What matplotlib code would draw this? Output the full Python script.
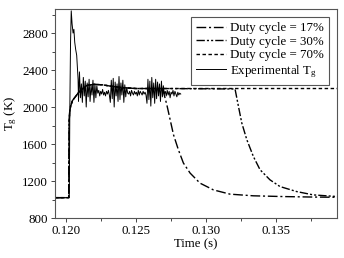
import numpy as np
import matplotlib
matplotlib.use("Agg")
import matplotlib.pyplot as plt
from matplotlib.ticker import MultipleLocator

plt.rcParams["font.family"] = ["Liberation Serif", "DejaVu Serif"]
plt.rcParams["mathtext.fontset"] = "custom"
plt.rcParams["mathtext.rm"] = "Liberation Serif"
plt.rcParams["mathtext.it"] = "Liberation Serif:italic"

# --- simulated curves (shared rise, then each duty cycle) ---
rise_t = [0.11920, 0.12018, 0.12021, 0.12025, 0.12032, 0.12045, 0.12065, 0.12090,
          0.12120, 0.12150, 0.12200, 0.12260, 0.12320, 0.12400, 0.12500]
rise_T = [1020, 1020, 1850, 1950, 2010, 2070, 2110, 2160,
          2200, 2235, 2245, 2240, 2225, 2210, 2200]

d17_t = [0.12690, 0.12720, 0.12744, 0.12768, 0.12803, 0.12839, 0.12887, 0.12958,
         0.13054, 0.13173, 0.13340, 0.13550, 0.13750, 0.13940]
d17_T = [2200, 2028, 1865, 1702, 1539, 1395, 1286, 1177,
         1104, 1058, 1040, 1032, 1027, 1024]

d30_t = [0.12700, 0.13209, 0.13233, 0.13257, 0.13293, 0.13340, 0.13388, 0.13459,
         0.13531, 0.13650, 0.13769, 0.13940]
d30_T = [2200, 2195, 2010, 1829, 1648, 1466, 1322, 1213,
         1140, 1086, 1050, 1032]

d70_t = [0.12700, 0.13940]
d70_T = [2200, 2200]

# --- experimental T_g ---
exp_head_t = [0.11920, 0.12022, 0.12026, 0.12031, 0.12036, 0.12042, 0.12049, 0.12055,
              0.12061, 0.12068, 0.12075, 0.12080, 0.12085]
exp_head_T = [1020, 1020, 2000, 2700, 3040, 2900, 2800, 2840,
              2700, 2620, 2560, 2430, 2300]
exp_osc_start = 0.12088
exp_osc_end = 0.12820
exp_osc_T = [
    2060, 2380, 2100, 2250, 2050, 2320, 2120, 2280, 2000, 2260,
    2110, 2300, 2060, 2240, 2130, 2290, 2050, 2250, 2100, 2230,
    2150, 2180, 2120, 2170, 2140, 2190, 2130, 2160, 2120, 2170, 2140, 2180, 2130,
    2050, 2290, 2090, 2310, 2000, 2270, 2120, 2250, 2060, 2330,
    2080, 2260, 2130, 2290, 2050, 2240, 2110, 2210, 2150,
    2140, 2170, 2120, 2180, 2150, 2130, 2170, 2140, 2160, 2120,
    2180, 2130, 2170, 2150, 2130, 2170, 2140, 2160, 2130,
    2040, 2300, 2080, 2280, 2010, 2320, 2100, 2260, 2040, 2300,
    2090, 2270, 2120, 2250, 2060, 2280, 2110, 2230, 2140,
    2170, 2120, 2180, 2130, 2170, 2100, 2160, 2140, 2180, 2120,
    2170, 2140, 2110, 2160, 2130, 2150, 2140,
]

labels = ["Duty cycle = 17%", "Duty cycle = 30%", "Duty cycle = 70%", r"Experimental T$_\mathrm{g}$"]


def main():
    exp_osc_t = np.linspace(exp_osc_start, exp_osc_end, len(exp_osc_T))
    exp_t = np.concatenate([exp_head_t, exp_osc_t])
    exp_T = np.concatenate([exp_head_T, exp_osc_T])

    fig = plt.figure(figsize=(3.44, 2.58), dpi=100)
    ax = fig.add_axes([0.160, 0.155, 0.820, 0.812])

    fs = 9.3
    styles = [(0, (7, 2, 1.5, 2)), (0, (6, 1.5, 1.5, 1.5, 1.5, 1.5)), (0, (2.5, 1.8))]
    for (t, T), ls, lab in zip([(d17_t, d17_T), (d30_t, d30_T), (d70_t, d70_T)], styles, labels[:3]):
        tt = list(rise_t) + list(t)
        TT = list(rise_T) + list(T)
        ax.plot(tt, TT, color="black", lw=1.0, linestyle=ls, label=lab)
    ax.plot(exp_t, exp_T, color="black", lw=0.7, label=labels[3])

    ax.set_xlim(0.1192, 0.1394)
    ax.set_ylim(800, 3065)
    ax.xaxis.set_major_locator(MultipleLocator(0.005))
    ax.xaxis.set_minor_locator(MultipleLocator(0.0025))
    ax.yaxis.set_major_locator(MultipleLocator(400))
    ax.yaxis.set_minor_locator(MultipleLocator(200))
    ax.xaxis.set_major_formatter(matplotlib.ticker.FormatStrFormatter("%.3f"))
    ax.tick_params(which="both", direction="out", top=False, right=False,
                   labelsize=fs, color="#444444", width=0.7)
    ax.tick_params(which="major", length=3, pad=2)
    ax.tick_params(which="minor", length=2)
    for sp in ax.spines.values():
        sp.set_color("#555555")
        sp.set_linewidth(0.8)

    ax.set_xlabel("Time (s)", fontsize=fs, labelpad=1)
    ax.set_ylabel(r"T$_\mathrm{g}$ (K)", fontsize=fs, labelpad=2)

    leg = ax.legend(loc="upper right", fontsize=fs, handlelength=2.3, handletextpad=0.3,
                    labelspacing=0.12, borderpad=0.4, borderaxespad=0.65,
                    fancybox=False, framealpha=1)
    leg.get_frame().set_edgecolor("#555555")
    leg.get_frame().set_linewidth(0.8)

    fig.savefig("out.png", dpi=100)
    plt.close(fig)


if __name__ == "__main__":
    main()
